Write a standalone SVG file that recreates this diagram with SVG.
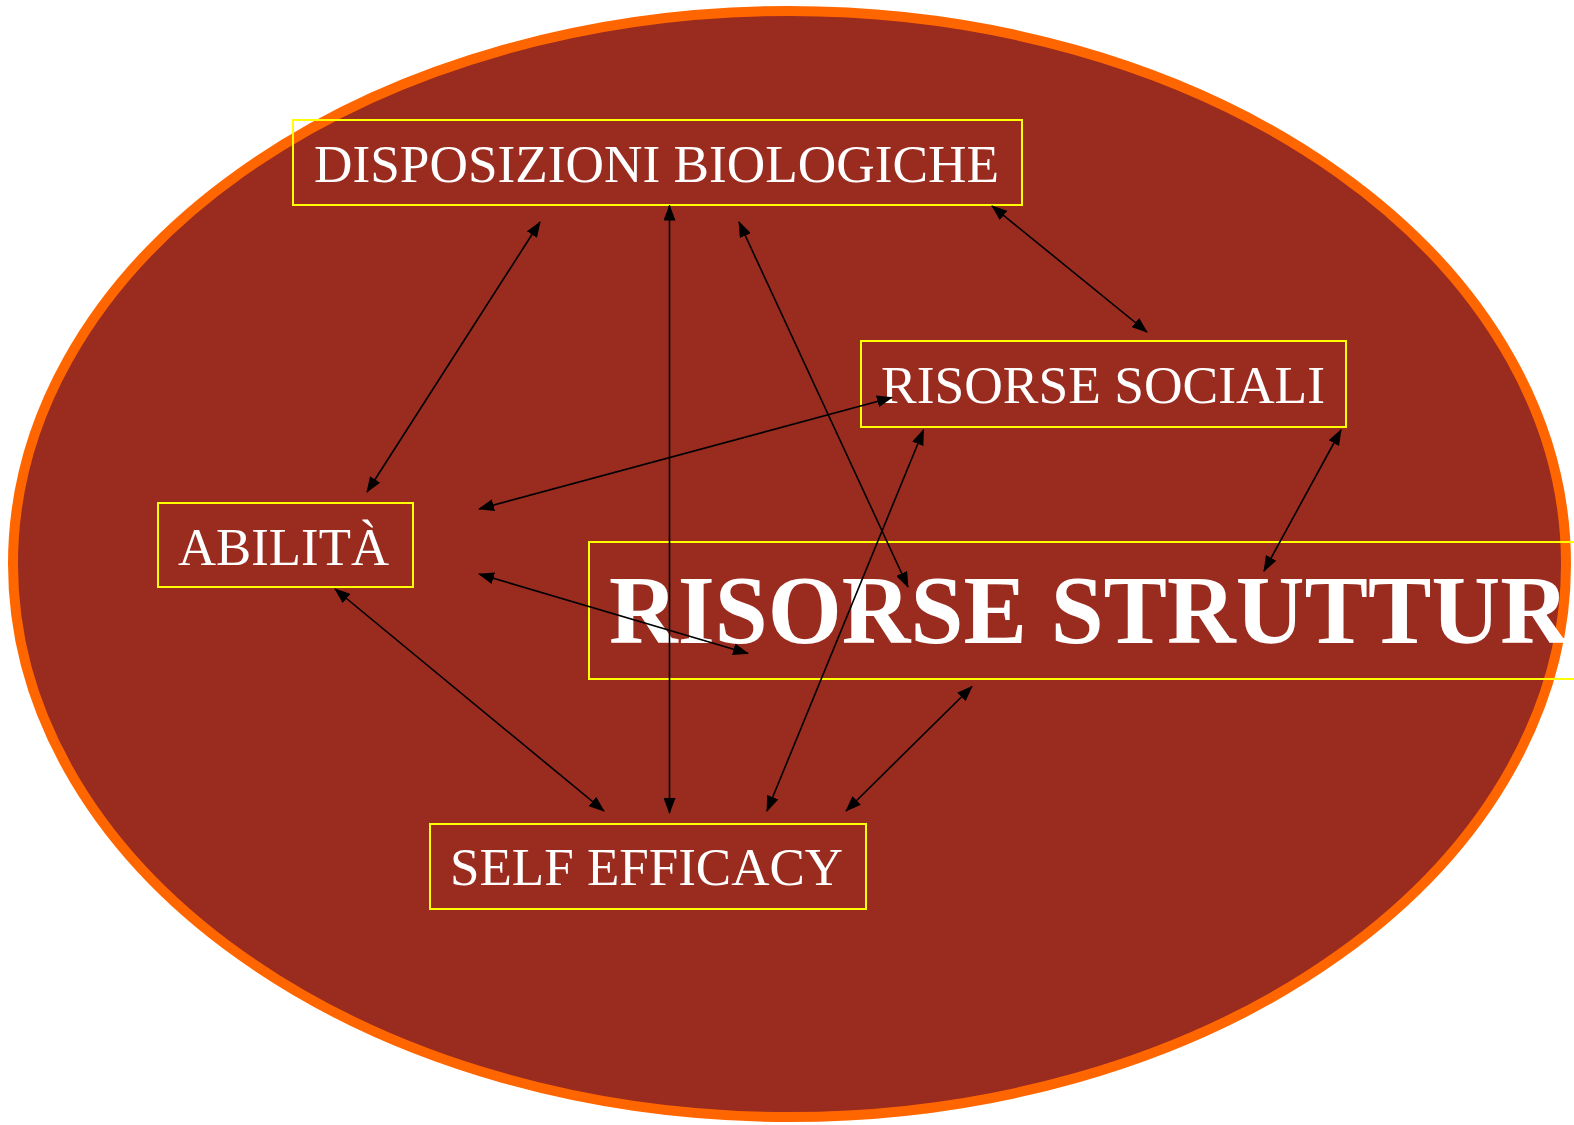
<svg xmlns="http://www.w3.org/2000/svg" width="1574" height="1125" viewBox="0 0 1574 1125">
<style>
.box{fill:none;stroke:#FFFF00;stroke-width:2}
.lbl{font-family:"Liberation Serif","Times New Roman",serif;fill:#FFFFFF;font-size:53px}
.big{font-family:"Liberation Serif","Times New Roman",serif;fill:#FFFFFF;font-size:98px;font-weight:bold}
.con{stroke:#000000;stroke-width:1.6;fill:none;marker-start:url(#ah);marker-end:url(#ah)}
</style>
<defs>
<marker id="ah" markerUnits="userSpaceOnUse" markerWidth="16" markerHeight="12" refX="15" refY="6" orient="auto-start-reverse" viewBox="0 0 16 12">
<path d="M0,0 L16,6 L0,12 z" fill="#000000"/>
</marker>
</defs>
<rect x="0" y="0" width="1574" height="1125" fill="#FFFFFF"/>
<ellipse cx="789.5" cy="564" rx="776.5" ry="553" fill="#992B1F" stroke="#FF6600" stroke-width="10"/>
<g id="node-disposizioni">
<rect class="box" x="293" y="120" width="729" height="85"/>
<text class="lbl" x="314" y="182" textLength="685" lengthAdjust="spacingAndGlyphs">DISPOSIZIONI BIOLOGICHE</text>
</g>
<g id="node-sociali">
<rect class="box" x="861" y="341" width="485" height="86"/>
<text class="lbl" x="881" y="403" textLength="444" lengthAdjust="spacingAndGlyphs">RISORSE SOCIALI</text>
</g>
<g id="node-abilita">
<rect class="box" x="158" y="503" width="255" height="84"/>
<text class="lbl" x="178" y="565" textLength="211" lengthAdjust="spacingAndGlyphs">ABILITÀ</text>
</g>
<g id="node-strutturali">
<rect class="box" x="589" y="542" width="990" height="137"/>
<text class="big" x="609" y="643" textLength="960" lengthAdjust="spacingAndGlyphs">RISORSE STRUTTUR</text>
</g>
<g id="node-self">
<rect class="box" x="430" y="824" width="436" height="85"/>
<text class="lbl" x="450" y="885" textLength="393" lengthAdjust="spacingAndGlyphs">SELF EFFICACY</text>
</g>
<g id="connectors">
<line class="con" x1="540" y1="222" x2="367" y2="492"/>
<line class="con" x1="669.5" y1="205.5" x2="669.5" y2="813"/>
<line class="con" x1="739" y1="222" x2="908" y2="587"/>
<line class="con" x1="992" y1="206" x2="1147" y2="332"/>
<line class="con" x1="892" y1="397.5" x2="479" y2="509"/>
<line class="con" x1="923.5" y1="430" x2="767" y2="811"/>
<line class="con" x1="1341" y1="430" x2="1264" y2="571"/>
<line class="con" x1="479" y1="574" x2="748" y2="653.5"/>
<line class="con" x1="335" y1="589" x2="604" y2="811"/>
<line class="con" x1="972" y1="686.5" x2="846" y2="811"/>
</g>
</svg>
